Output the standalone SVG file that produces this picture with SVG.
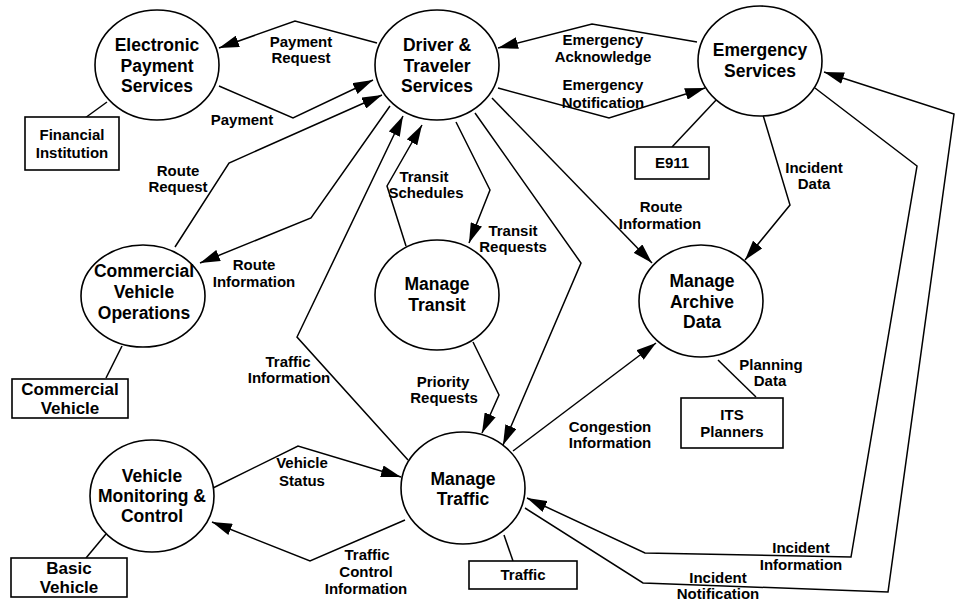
<svg xmlns="http://www.w3.org/2000/svg" width="957" height="605" viewBox="0 0 957 605">
  <style>
    .node ellipse { fill: #fff; stroke: #000; stroke-width: 1.6; }
    .term rect { fill: #fff; stroke: #000; stroke-width: 1.6; }
    .link { fill: none; stroke: #000; stroke-width: 1.5; stroke-linejoin: miter; }
    .arrow { marker-end: url(#head); }
    text { font-family: "Liberation Sans", Arial, Helvetica, sans-serif; font-weight: bold; fill: #000; text-anchor: middle; }
    .nt { font-size: 17.5px; }
    .bt { font-size: 15px; }
    .bt-l { font-size: 17px; }
    .lbl { font-size: 15px; }
  </style>
  <defs>
    <marker id="head" markerUnits="userSpaceOnUse" markerWidth="20" markerHeight="12" refX="20" refY="6" orient="auto">
      <path d="M0,0 L20,6 L0,12 Z" fill="#000"/>
    </marker>
  </defs>
  <rect width="957" height="605" fill="#fff"/>

  <!-- data flows -->
  <g id="connectors">
    <!-- terminator attachments -->
    <line class="link" x1="85" y1="118" x2="107" y2="102"/>
    <line class="link" x1="672" y1="147" x2="718" y2="98"/>
    <line class="link" x1="106" y1="378" x2="122" y2="346"/>
    <line class="link" x1="756" y1="397" x2="718" y2="360"/>
    <line class="link" x1="86" y1="558" x2="106" y2="534"/>
    <line class="link" x1="513" y1="561" x2="504" y2="535"/>

    <polyline class="link arrow" points="377,43 295,21 219,48"/>
    <polyline class="link arrow" points="219,86 293,118 373,80"/>
    <polyline class="link arrow" points="175,247 229,163 382,95"/>
    <polyline class="link arrow" points="390,106 311,218 200,263"/>
    <polyline class="link arrow" points="408,460 297,337 403,116"/>
    <polyline class="link arrow" points="406,246 387,186 422,125"/>
    <polyline class="link arrow" points="456,122 490,190 469,243"/>
    <polyline class="link arrow" points="475,113 581,263 503,445"/>
    <line class="link arrow" x1="492" y1="98" x2="652" y2="263"/>
    <polyline class="link arrow" points="697,42 592,24 498,48"/>
    <polyline class="link arrow" points="498,88 609,118 705,88"/>
    <polyline class="link arrow" points="763,115 790,205 745,260"/>
    <polyline class="link arrow" points="815,88 917,166 851,557 645,553 527,498"/>
    <polyline class="link arrow" points="525,508 643,583 888,592 954,114 824,72"/>
    <line class="link arrow" x1="513" y1="451" x2="656" y2="343"/>
    <polyline class="link arrow" points="473,342 499,395 482,433"/>
    <polyline class="link arrow" points="213,488 298,446 401,477"/>
    <polyline class="link arrow" points="405,520 310,561 212,522"/>
  </g>

  <!-- flow labels -->
  <g id="labels">
    <text class="lbl" x="301" y="47">Payment</text>
    <text class="lbl" x="301" y="63">Request</text>
    <text class="lbl" x="242" y="125">Payment</text>
    <text class="lbl" x="178" y="176">Route</text>
    <text class="lbl" x="178" y="192">Request</text>
    <text class="lbl" x="254" y="270">Route</text>
    <text class="lbl" x="254" y="287">Information</text>
    <text class="lbl" x="288" y="367">Traffic</text>
    <text class="lbl" x="289" y="383">Information</text>
    <text class="lbl" x="424" y="182">Transit</text>
    <text class="lbl" x="426" y="198">Schedules</text>
    <text class="lbl" x="513" y="236">Transit</text>
    <text class="lbl" x="513" y="252">Requests</text>
    <text class="lbl" x="661" y="212">Route</text>
    <text class="lbl" x="660" y="229">Information</text>
    <text class="lbl" x="603" y="45">Emergency</text>
    <text class="lbl" x="603" y="62">Acknowledge</text>
    <text class="lbl" x="603" y="90">Emergency</text>
    <text class="lbl" x="603" y="108">Notification</text>
    <text class="lbl" x="814" y="173">Incident</text>
    <text class="lbl" x="814" y="189">Data</text>
    <text class="lbl" x="771" y="370">Planning</text>
    <text class="lbl" x="770" y="386">Data</text>
    <text class="lbl" x="610" y="432">Congestion</text>
    <text class="lbl" x="610" y="448">Information</text>
    <text class="lbl" x="443" y="387">Priority</text>
    <text class="lbl" x="444" y="403">Requests</text>
    <text class="lbl" x="302" y="468">Vehicle</text>
    <text class="lbl" x="302" y="486">Status</text>
    <text class="lbl" x="367" y="560">Traffic</text>
    <text class="lbl" x="366" y="577">Control</text>
    <text class="lbl" x="366" y="594">Information</text>
    <text class="lbl" x="801" y="553">Incident</text>
    <text class="lbl" x="801" y="570">Information</text>
    <text class="lbl" x="718" y="583">Incident</text>
    <text class="lbl" x="718" y="599">Notification</text>
  </g>

  <!-- processes -->
  <g id="electronic-payment" class="node">
    <ellipse cx="157" cy="65" rx="62" ry="55"/>
    <text class="nt" x="157" y="51">Electronic</text>
    <text class="nt" x="157" y="72">Payment</text>
    <text class="nt" x="157" y="92">Services</text>
  </g>
  <g id="driver-traveler" class="node">
    <ellipse cx="437" cy="65" rx="62" ry="55"/>
    <text class="nt" x="437" y="51">Driver &amp;</text>
    <text class="nt" x="437" y="72">Traveler</text>
    <text class="nt" x="437" y="92">Services</text>
  </g>
  <g id="emergency" class="node">
    <ellipse cx="760" cy="61" rx="62" ry="55"/>
    <text class="nt" x="760" y="56">Emergency</text>
    <text class="nt" x="760" y="77">Services</text>
  </g>
  <g id="commercial-ops" class="node">
    <ellipse cx="143" cy="296" rx="62" ry="51"/>
    <text class="nt" x="144" y="277">Commercial</text>
    <text class="nt" x="144" y="298">Vehicle</text>
    <text class="nt" x="144" y="319">Operations</text>
  </g>
  <g id="manage-transit" class="node">
    <ellipse cx="437" cy="295" rx="62" ry="55"/>
    <text class="nt" x="437" y="290">Manage</text>
    <text class="nt" x="437" y="311">Transit</text>
  </g>
  <g id="manage-archive" class="node">
    <ellipse cx="701" cy="301" rx="62" ry="56"/>
    <text class="nt" x="702" y="287">Manage</text>
    <text class="nt" x="702" y="308">Archive</text>
    <text class="nt" x="702" y="328">Data</text>
  </g>
  <g id="vehicle-monitoring" class="node">
    <ellipse cx="152" cy="496" rx="62" ry="56"/>
    <text class="nt" x="152" y="482">Vehicle</text>
    <text class="nt" x="152" y="502">Monitoring &amp;</text>
    <text class="nt" x="152" y="522">Control</text>
  </g>
  <g id="manage-traffic" class="node">
    <ellipse cx="463" cy="488" rx="62" ry="56"/>
    <text class="nt" x="463" y="485">Manage</text>
    <text class="nt" x="463" y="505">Traffic</text>
  </g>

  <!-- terminators -->
  <g id="financial-institution" class="term">
    <rect x="25" y="117" width="94" height="53"/>
    <text class="bt" x="72" y="140">Financial</text>
    <text class="bt" x="72" y="158">Institution</text>
  </g>
  <g id="e911" class="term">
    <rect x="635" y="147" width="74" height="32"/>
    <text class="bt" x="672" y="168">E911</text>
  </g>
  <g id="commercial-vehicle" class="term">
    <rect x="12" y="379" width="116" height="39"/>
    <text class="bt-l" x="70" y="395">Commercial</text>
    <text class="bt-l" x="70" y="414">Vehicle</text>
  </g>
  <g id="its-planners" class="term">
    <rect x="681" y="398" width="102" height="50"/>
    <text class="bt" x="732" y="420">ITS</text>
    <text class="bt" x="732" y="437">Planners</text>
  </g>
  <g id="basic-vehicle" class="term">
    <rect x="11" y="558" width="116" height="39"/>
    <text class="bt-l" x="69" y="574">Basic</text>
    <text class="bt-l" x="69" y="593">Vehicle</text>
  </g>
  <g id="traffic" class="term">
    <rect x="469" y="561" width="108" height="28"/>
    <text class="bt" x="523" y="580">Traffic</text>
  </g>
</svg>
